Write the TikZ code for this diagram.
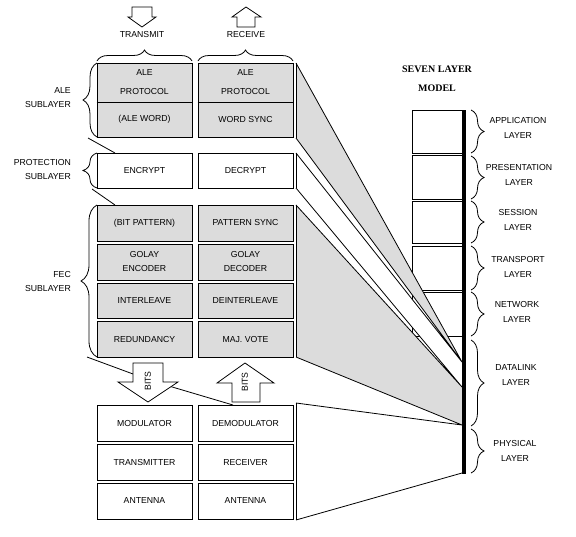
\documentclass[tikz,border=0pt]{standalone}
\usepackage{fontspec}
\setmainfont{Liberation Sans}
\newfontfamily\serifbold{Liberation Serif}
\usetikzlibrary{decorations.pathreplacing}
\definecolor{boxgray}{RGB}{220,220,220}
\begin{document}
\begin{tikzpicture}[x=1pt,y=-1pt,
  lbl/.style={font=\fontsize{8.7}{14}\selectfont, align=center, inner sep=0},
  cell/.style={draw, line width=1pt, minimum width=95pt, inner sep=0, font=\fontsize{8.7}{14}\selectfont, align=center},
  graycell/.style={cell, fill=boxgray},
  lay/.style={draw, line width=1pt, minimum width=50pt, inner sep=0},
  brc/.style={decorate, decoration={brace, amplitude=#1}, line width=0.8pt},
  fun/.style={line width=0.8pt},
  fatarrow/.style={draw, fill=white, line width=0.8pt}
]
\useasboundingbox (0,0) rectangle (576,536);

% seven layer model boxes (behind the funnels)
\node[font=\serifbold\bfseries\fontsize{10}{19}\selectfont, align=center, inner sep=0] (title) at (437,78.5) {SEVEN LAYER\\MODEL};
\node[lay, minimum height=43pt] (app) at (437,131.5) {};
\node[lay, minimum height=44pt] (pres) at (437,177) {};
\node[lay, minimum height=42pt] (sess) at (437,222) {};
\node[lay, minimum height=44pt] (trans) at (437,268) {};
\node[lay, minimum height=44pt] (net) at (437,314) {};

% funnels
\coordinate (aleA) at (296,63);
\coordinate (aleB) at (296,138);
\coordinate (proA) at (296,153);
\coordinate (proB) at (296,188);
\coordinate (fecA) at (296,205);
\coordinate (fecB) at (296,357);
\coordinate (phyA) at (296,403);
\coordinate (phyB) at (296,520);
\coordinate (p1) at (462,362);
\coordinate (p2) at (462,387);
\coordinate (p3) at (462,425);
\coordinate (p4) at (462,473);
\fill[boxgray] (aleA) -- (p1) -- (aleB) -- cycle;
\fill[white] (proA) -- (p1) -- (p2) -- (proB) -- cycle;
\fill[boxgray] (fecA) -- (p2) -- (p3) -- (fecB) -- cycle;
\draw[fun] (aleA) -- (p1) (aleB) -- (p1) (proA) -- (p1) (proB) -- (p2)
  (fecA) -- (p2) (fecB) -- (p3) (phyA) -- (p3) (phyB) -- (p4);
\draw[fun] (aleA) -- (aleB) (proA) -- (proB) (fecA) -- (fecB) (phyA) -- (phyB);
\draw[line width=3.5pt] (464,110) -- (464,474);

% top arrows and labels
\draw[fatarrow] (132,7) -- (152,7) -- (152,17) -- (156,17) -- (142,27) -- (128,17) -- (132,17) -- cycle;
\draw[fatarrow] (246,7) -- (261,17) -- (255,17) -- (255,27) -- (237,27) -- (237,17) -- (232,17) -- cycle;
\node[lbl] (tx) at (142,35) {TRANSMIT};
\node[lbl] (rx) at (246,35) {RECEIVE};
\draw[brc=11pt] (97,61) -- (192,61);
\draw[brc=11pt] (198,61) -- (293,61);

% transmit column
\node[graycell, minimum height=39pt, font=\fontsize{8.7}{19}\selectfont] (aleT) at (144.5,82.5) {ALE\\PROTOCOL};
\node[graycell, minimum height=35pt] (wordT) at (144.5,119.5) {(ALE WORD)};
\node[cell, minimum height=35pt] (enc) at (144.5,170.5) {ENCRYPT};
\node[graycell, minimum height=36pt] (bitp) at (144.5,223) {(BIT PATTERN)};
\node[graycell, minimum height=36pt] (genc) at (144.5,262) {GOLAY\\ENCODER};
\node[graycell, minimum height=35pt] (intl) at (144.5,300.5) {INTERLEAVE};
\node[graycell, minimum height=36pt] (red) at (144.5,339) {REDUNDANCY};
\node[cell, minimum height=36pt] (mod) at (144.5,423) {MODULATOR};
\node[cell, minimum height=36pt] (txr) at (144.5,462) {TRANSMITTER};
\node[cell, minimum height=36pt] (antT) at (144.5,501) {ANTENNA};

% receive column
\node[graycell, minimum height=39pt, font=\fontsize{8.7}{19}\selectfont] (aleR) at (245.5,82.5) {ALE\\PROTOCOL};
\node[graycell, minimum height=35pt] (wordR) at (245.5,119.5) {WORD SYNC};
\node[cell, minimum height=35pt] (dec) at (245.5,170.5) {DECRYPT};
\node[graycell, minimum height=36pt] (psync) at (245.5,223) {PATTERN SYNC};
\node[graycell, minimum height=36pt] (gdec) at (245.5,262) {GOLAY\\DECODER};
\node[graycell, minimum height=35pt] (dintl) at (245.5,300.5) {DEINTERLEAVE};
\node[graycell, minimum height=36pt] (vote) at (245.5,339) {MAJ. VOTE};
\node[cell, minimum height=36pt] (demod) at (245.5,423) {DEMODULATOR};
\node[cell, minimum height=36pt] (rcv) at (245.5,462) {RECEIVER};
\node[cell, minimum height=36pt] (antR) at (245.5,501) {ANTENNA};

% thick separator ends
\draw[line width=1.8pt] (aleT.south west) -- ++(10,0) (aleT.south east) -- ++(-19,0);
\draw[line width=1.8pt] (aleR.south west) -- ++(9,0) (aleR.south east) -- ++(-18,0);

% left braces and labels
\draw[brc=14pt] (97,137) -- (97,63);
\draw[brc=14pt] (97,188) -- (97,153);
\draw[brc=16pt] (97,357) -- (97,205);
\node[lbl, anchor=east, align=right] (aleL) at (71,98) {ALE\\SUBLAYER};
\node[lbl, anchor=east, align=right] (proL) at (71,170) {PROTECTION\\SUBLAYER};
\node[lbl, anchor=east, align=right] (fecL) at (71,281.5) {FEC\\SUBLAYER};

% small diagonal leaders
\coordinate (l1a) at (88,138);
\coordinate (l1b) at (115,153);
\coordinate (l2a) at (92,189);
\coordinate (l2b) at (115,205);
\coordinate (l3a) at (87,357);
\coordinate (l3m) at (152,381);
\coordinate (l3b) at (233,405);
\draw[fun] (l1a) -- (l1b);
\draw[fun] (l2a) -- (l2b);
\draw[fun] (l3a) -- (l3m) -- (l3b);

% BITS arrows
\draw[fatarrow] (133,363) -- (163,363) -- (163,382) -- (178,382) -- (148,402) -- (118,382) -- (133,382) -- cycle;
\draw[fatarrow] (245,363) -- (274,383) -- (260,383) -- (260,402) -- (232,402) -- (232,383) -- (217,383) -- cycle;
\node[lbl, rotate=90] (bitsT) at (148,381) {BITS};
\node[lbl, rotate=90] (bitsR) at (245,382) {BITS};

% layer braces and labels
\draw[brc=13pt] (471,110) -- (471,153);
\draw[brc=13pt] (471,156) -- (471,199);
\draw[brc=13pt] (471,201) -- (471,243);
\draw[brc=13pt] (471,246) -- (471,290);
\draw[brc=13pt] (471,292) -- (471,336);
\draw[brc=13pt] (471,340) -- (471,426);
\draw[brc=13pt] (471,429) -- (471,473);
\node[lbl, font=\fontsize{8.7}{15}\selectfont] (appL) at (518,128) {APPLICATION\\LAYER};
\node[lbl, font=\fontsize{8.7}{15}\selectfont] (presL) at (519,174.5) {PRESENTATION\\LAYER};
\node[lbl, font=\fontsize{8.7}{15}\selectfont] (sessL) at (518,219.5) {SESSION\\LAYER};
\node[lbl, font=\fontsize{8.7}{15}\selectfont] (transL) at (518,266.5) {TRANSPORT\\LAYER};
\node[lbl, font=\fontsize{8.7}{15}\selectfont] (netL) at (517,311.5) {NETWORK\\LAYER};
\node[lbl, font=\fontsize{8.7}{15}\selectfont] (dlL) at (516,375.5) {DATALINK\\LAYER};
\node[lbl, font=\fontsize{8.7}{15}\selectfont] (phL) at (515,450.5) {PHYSICAL\\LAYER};
\end{tikzpicture}
\end{document}
